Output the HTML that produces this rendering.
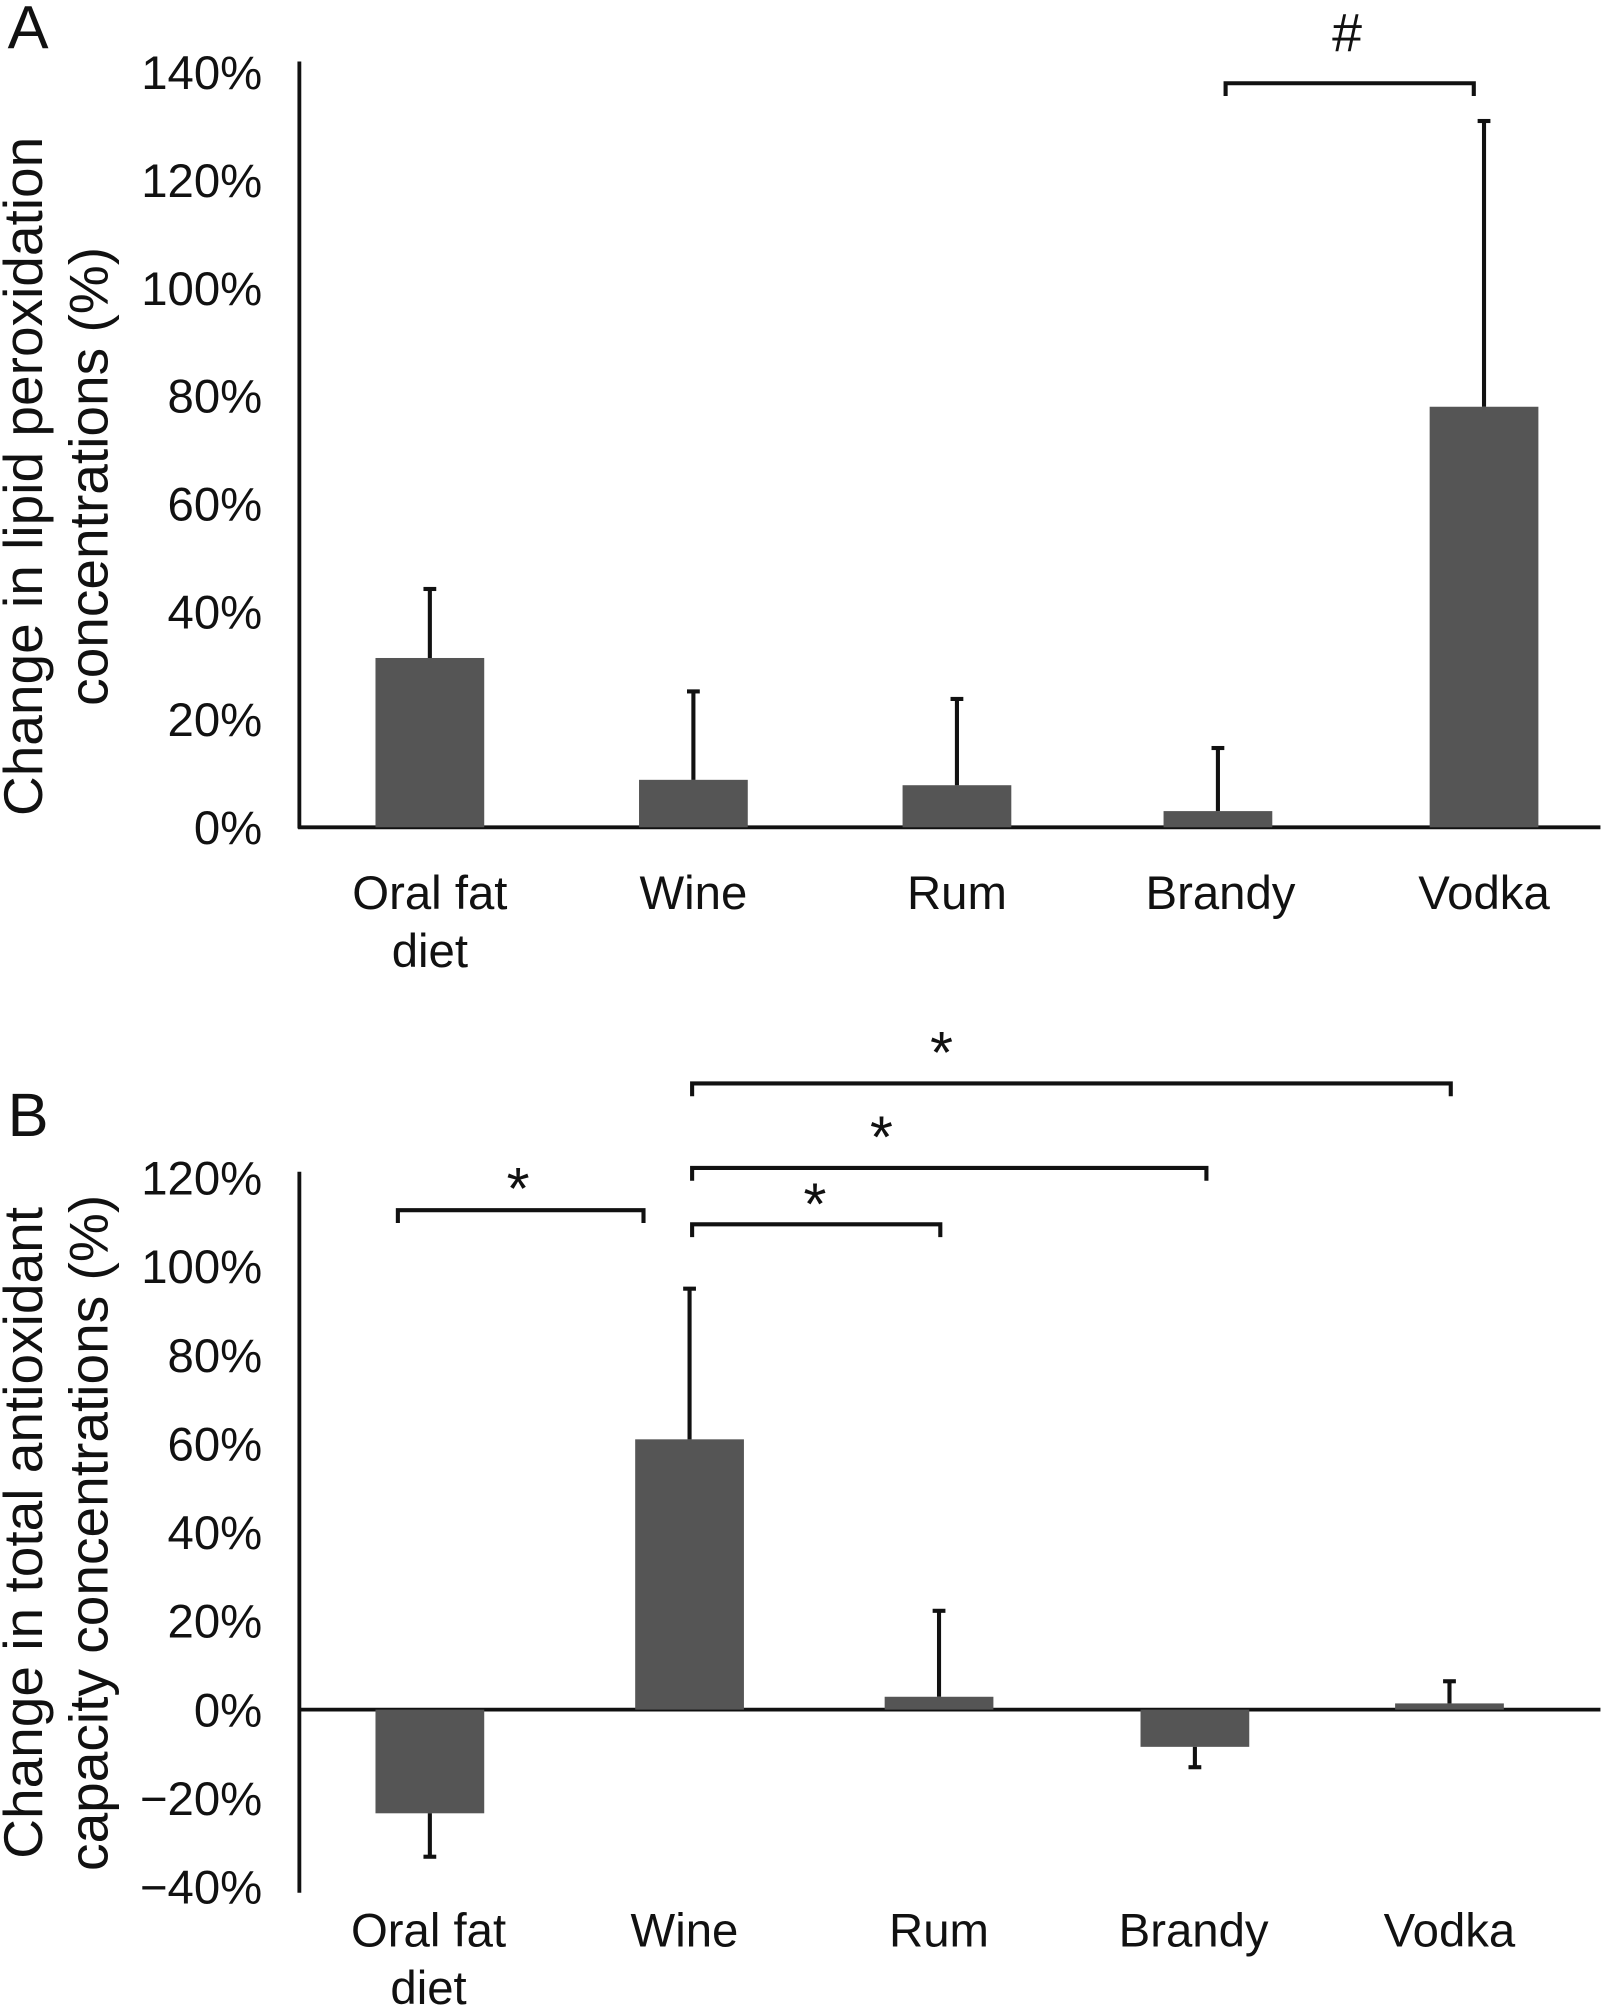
<!DOCTYPE html>
<html><head><meta charset="utf-8"><style>
html,body{margin:0;padding:0;background:#fff}
svg{display:block}
text{font-family:"Liberation Sans",Arial,sans-serif;fill:#111}
</style></head><body>
<svg id="chart" width="1603" height="2008" viewBox="0 0 1253 1568" preserveAspectRatio="none" xmlns="http://www.w3.org/2000/svg">
<g id="pa"></g>
<g id="pb"></g>
</svg>
<script>
const categories = ["Oral fat|diet","Wine","Rum","Brandy","Vodka"];
const lipidValues = [31.4, 8.8, 7.8, 3.0, 78];
const lipidErrors = [12.8, 16.4, 16.0, 11.7, 53];
const lipidTicks = [0,20,40,60,80,100,120,140];
const taValues = [-23.4, 61, 2.9, -8.4, 1.4];
const taErrors = [-9.8, 34, 19.4, -4.6, 5.0];
const taTicks = [-40,-20,0,20,40,60,80,100,120];

const NS="http://www.w3.org/2000/svg";
function el(p,tag,attrs){const e=document.createElementNS(NS,tag);for(const k in attrs)e.setAttribute(k,attrs[k]);p.appendChild(e);return e;}

function panel(g, opt){
  const y = v => opt.zeroY - v*opt.ppu;
  const barCenters = opt.centers;
  let a=el(g,'line',{x1:234,x2:234,y1:opt.axisTop,y2:opt.axisBottom,stroke:'#111','stroke-width':3});
  
  
  a=el(g,'line',{x1:233,x2:1251,y1:opt.zeroY,y2:opt.zeroY,stroke:'#111','stroke-width':3});
  
  
  opt.ticks.forEach((t,i)=>{
    const tx=el(g,'text',{x:205,y:y(t)+13,'text-anchor':'end','font-size':37});
    tx.textContent=(t<0?'\u2212'+(-t):t)+'%';
    
    
  });
  opt.values.forEach((v,i)=>{
    const cx=barCenters[i];
    const r=el(g,'rect',{x:cx-42.5,width:85,y:Math.min(y(v),y(0)),height:Math.abs(y(v)-y(0)),fill:'#555'});
    
    
    const ev=v+opt.errors[i];
    const eg=el(g,'g',{});
    
    
    el(eg,'line',{x1:cx,x2:cx,y1:y(v),y2:y(ev),stroke:'#111','stroke-width':3.2});
    el(eg,'line',{x1:cx-5,x2:cx+5,y1:y(ev),y2:y(ev),stroke:'#111','stroke-width':3.2});
    const parts=categories[i].split('|');
    parts.forEach((p,j)=>{
      const tx=el(g,'text',{x:opt.labelX[i],y:opt.labelY+j*45,'text-anchor':'middle','font-size':37});
      tx.textContent=p;
      
      
    });
  });
  opt.brackets.forEach(b=>{
    const bg=el(g,'g',{});
    
    
    el(bg,'path',{d:`M${b[0]},${b[2]+10} V${b[2]} H${b[1]} V${b[2]+10}`,fill:'none',stroke:'#111','stroke-width':3.2});
    const tx=el(bg,'text',{x:b[3],y:b[4]+(b[5]=='#'?0:6),'text-anchor':'middle','font-size':b[5]=='#'?42:46});
    tx.textContent=b[5];
  });
  const yl=el(g,'text',{transform:`translate(0,${opt.ylabelY}) rotate(-90)`,'text-anchor':'middle','font-size':43});
  
  
  const t1=el(yl,'tspan',{x:0,y:33}); t1.textContent=opt.ylabel[0];
  const t2=el(yl,'tspan',{x:0,y:84}); t2.textContent=opt.ylabel[1];
  const L=el(g,'text',{x:6,y:opt.letterY,'font-size':48});
  L.textContent=opt.letter;
  
  
}

panel(document.getElementById('pa'),{
  zeroY:646, ppu:4.21, axisTop:48, axisBottom:647, ticks:lipidTicks,
  values:lipidValues, errors:lipidErrors,
  centers:[336,542,748,952,1160], labelX:[336,542,748,954,1160], labelY:710,
  brackets:[[958,1152,65,1053,40,'#']],
  ylabel:['Change in lipid peroxidation','concentrations (%)'], ylabelY:372,
  letter:'A', letterY:38
});
panel(document.getElementById('pb'),{
  zeroY:1335, ppu:3.46, axisTop:915, axisBottom:1478, ticks:taTicks,
  values:taValues, errors:taErrors,
  centers:[336,539,734,934,1133], labelX:[335,535,734,933,1133], labelY:1520,
  brackets:[[311,503,945,405,938,'*'],[541,735,956,637,950,'*'],[541,943,912,689,898,'*'],[541,1134,846,736,832,'*']],
  ylabel:['Change in total antioxidant','capacity concentrations (%)'], ylabelY:1197,
  letter:'B', letterY:887
});
</script>
</body></html>
